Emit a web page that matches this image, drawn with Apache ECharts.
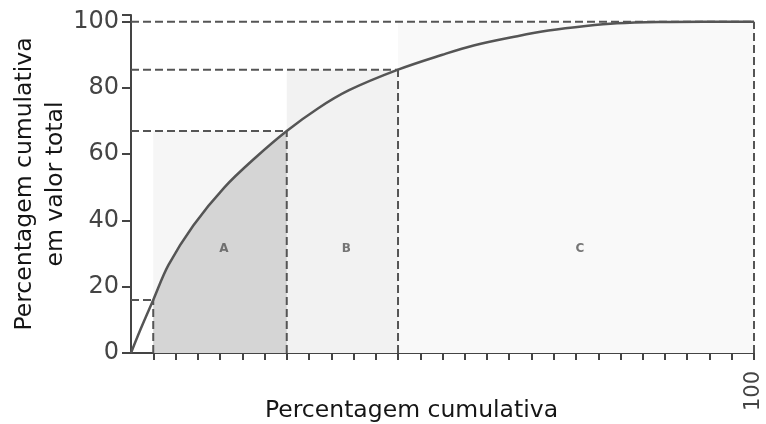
<!DOCTYPE html>
<html>
<head>
<meta charset="utf-8">
<script src="https://cdn.jsdelivr.net/npm/echarts@6/dist/echarts.min.js"></script>
<style>html,body{margin:0;padding:0;background:#fff}#c{width:766px;height:424px}</style>
</head>
<body>
<div id="c"></div>
<script>
// Cumulative curve (x: cumulative percentage of items, y: cumulative percentage of total value)
const curveX = [0, 1.5, 3.57, 6, 10, 15, 20, 25, 30, 35, 42.86, 50, 55, 62, 67, 73, 78, 85, 92, 100];
const curveY = [0, 7, 16, 26.5, 38.5, 50, 59, 67, 73.8, 79.3, 85.5, 90, 92.8, 95.6, 97.3, 98.7, 99.5, 99.9, 100, 100];
// Class boundaries (x) and the cumulative value reached there (y)
const zoneX = [3.57, 25, 42.86, 100];
const zoneY = [16, 67, 85.5, 100];
const zoneNames = ['A', 'B', 'C'];
const yTicks = [0, 20, 40, 60, 80, 100];
const xTickCount = 28;
const xEndLabel = '100';

const chart = echarts.init(document.getElementById('c'));
const curve = curveX.map((x, i) => [x, curveY[i]]);
const areaA = curve.filter(p => p[0] >= zoneX[0] - 1e-9 && p[0] <= zoneX[1] + 1e-9);

const dash = { type: [8, 4], color: '#555', width: 2 };
const guideSeries = [];
zoneX.forEach((x, i) => {
  guideSeries.push({ type: 'line', silent: true, symbol: 'none', z: 3, lineStyle: dash,
    data: [[0, zoneY[i]], [x, zoneY[i]]] });
  guideSeries.push({ type: 'line', silent: true, symbol: 'none', z: 3, lineStyle: dash,
    data: [[x, 0], [x, zoneY[i]]] });
});

const bgColors = ['#f6f6f6', '#f2f2f2', '#f9f9f9'];
const markAreas = zoneNames.map((n, i) => [
  { coord: [zoneX[i], 0], itemStyle: { color: bgColors[i] } },
  { coord: [zoneX[i + 1], zoneY[i + 1]] }
]);

const labelData = zoneNames.map((n, i) => ({ name: n, value: [(zoneX[i] + zoneX[i + 1]) / 2, 32] }));

chart.setOption({
  animation: false,
  grid: { left: 131, right: 12, top: 15, bottom: 71, outerBoundsMode: 'none', containLabel: false },
  xAxis: {
    type: 'value', min: 0, max: 100, interval: 100 / xTickCount,
    name: 'Percentagem cumulativa', nameLocation: 'middle', nameGap: 46, nameMoveOverlap: false,
    nameTextStyle: { fontFamily: 'DejaVu Sans', fontSize: 23.5, color: '#151515', padding: [0, 62, 0, 0] },
    axisLine: { lineStyle: { color: '#444', width: 2 } },
    axisTick: { show: true, length: 7, lineStyle: { color: '#444', width: 2 } },
    splitLine: { show: false },
    axisLabel: {
      rotate: 90, margin: 18, showMaxLabel: true, showMinLabel: false,
      fontFamily: 'DejaVu Sans', fontSize: 21, color: '#444',
      formatter: v => (Math.abs(v - 100) < 0.01 ? xEndLabel : '')
    }
  },
  yAxis: {
    type: 'value', min: 0, max: 102, interval: 20,
    name: 'Percentagem cumulativa\nem valor total', nameLocation: 'middle', nameGap: 60, nameMoveOverlap: false,
    nameTextStyle: { fontFamily: 'DejaVu Sans', fontSize: 23.5, color: '#151515', lineHeight: 31 },
    axisLine: { show: true, lineStyle: { color: '#444', width: 2 } },
    axisTick: { show: true, length: 9, lineStyle: { color: '#444', width: 2 } },
    splitLine: { show: false },
    axisLabel: {
      margin: 12, fontFamily: 'DejaVu Sans', fontSize: 24, color: '#444',
      formatter: v => (yTicks.indexOf(v) >= 0 ? String(v) : '')
    }
  },
  series: [
    { type: 'line', silent: true, symbol: 'none', data: [], z: 1,
      markArea: { silent: true, data: markAreas } },
    { type: 'line', silent: true, symbol: 'none', smooth: 0.35, data: areaA, z: 2,
      lineStyle: { width: 0 }, areaStyle: { color: '#d5d5d5', opacity: 1 } },
    ...guideSeries,
    { type: 'line', silent: true, symbol: 'none', smooth: 0.35, data: curve, z: 5,
      lineStyle: { color: '#555', width: 2.5 } },
    { type: 'scatter', silent: true, symbolSize: 0, data: labelData, z: 6,
      label: { show: true, position: 'inside', offset: [4, 2], formatter: '{b}', fontFamily: 'DejaVu Sans',
        fontWeight: 'bold', fontSize: 12, color: '#555' } }
  ]
});
</script>
</body>
</html>
